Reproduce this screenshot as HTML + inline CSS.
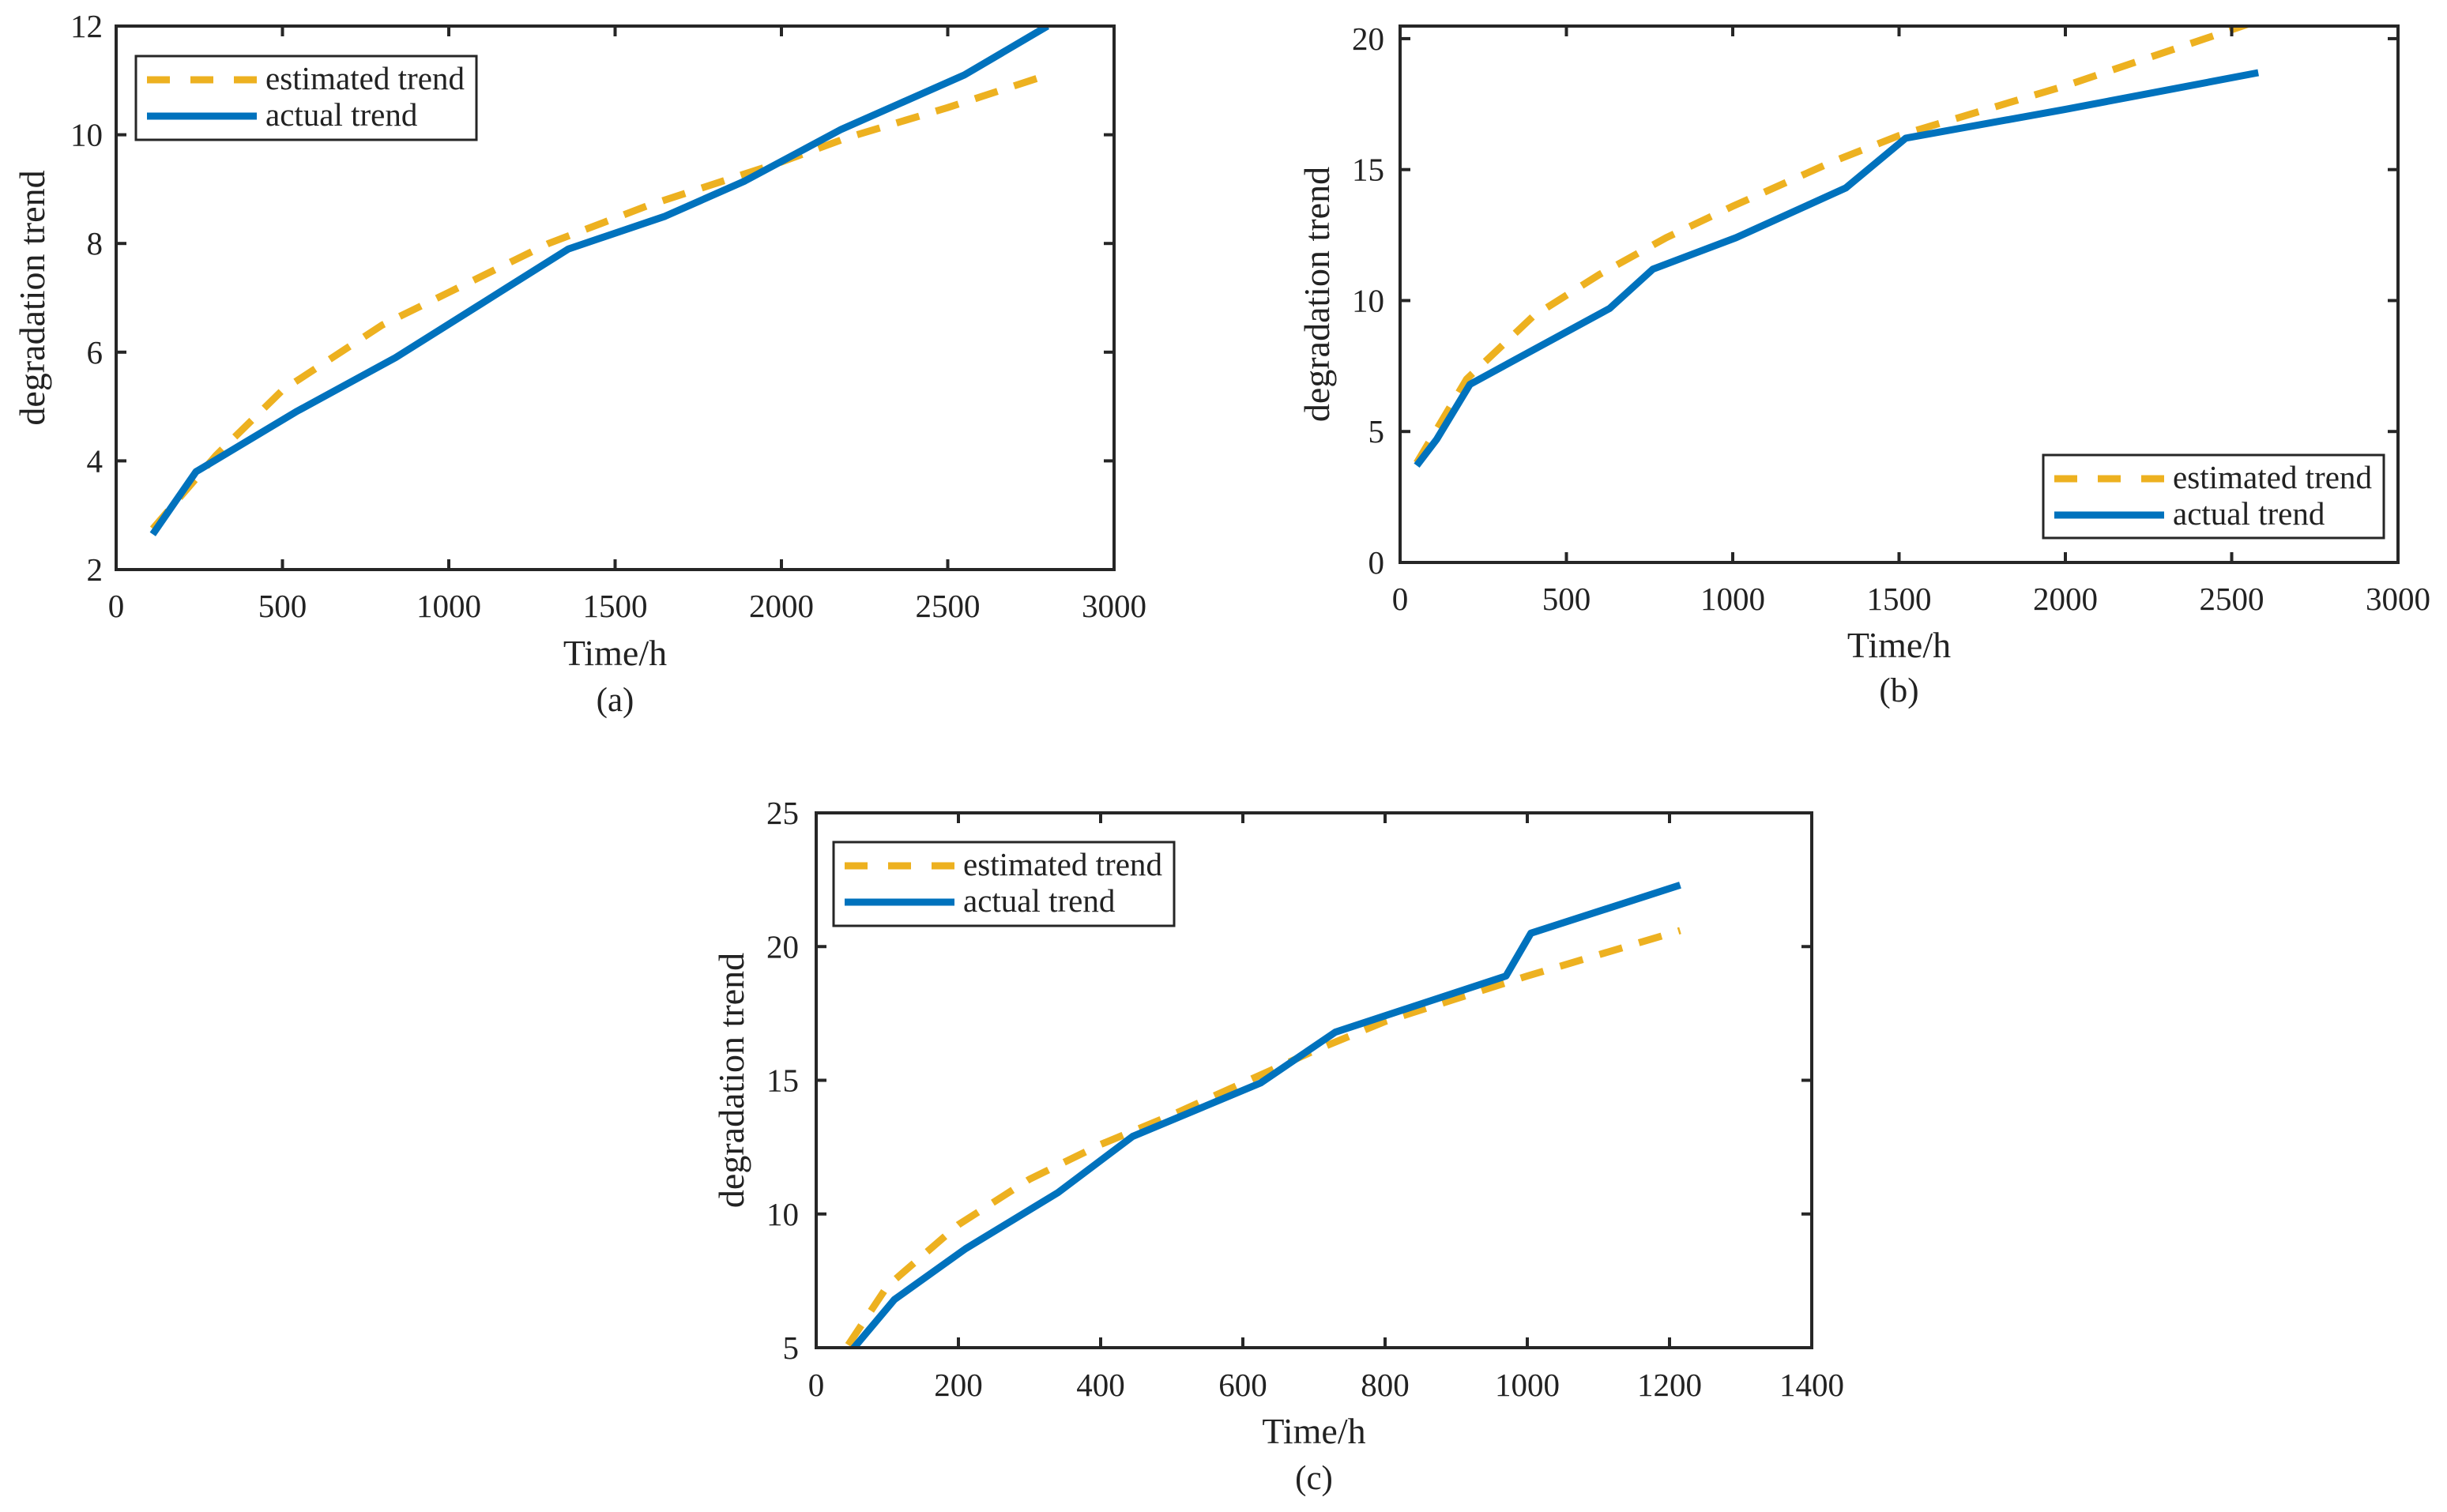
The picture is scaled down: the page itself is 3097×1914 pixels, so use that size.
<!DOCTYPE html>
<html><head><meta charset="utf-8"><style>
html,body{margin:0;padding:0;background:#fff}
svg{display:block}
text{font-family:"Liberation Serif",serif;fill:#222}
</style></head><body>
<svg id="fig" width="3097" height="1914" viewBox="0 0 3097 1914" xmlns="http://www.w3.org/2000/svg"></svg>
<script>
// Panel (a)
const aActX=[110,240,540,840,1100,1360,1650,1890,2180,2550,2800];
const aActY=[2.65,3.8,4.9,5.9,6.9,7.9,8.5,9.15,10.1,11.1,12];
const aEstX=[110,300,500,800,1000,1300,1600,2000,2200,2500,2800];
const aEstY=[2.75,4.1,5.3,6.5,7.1,8.0,8.7,9.5,9.95,10.5,11.1];
const aXTicks=[0,500,1000,1500,2000,2500,3000];
const aYTicks=[2,4,6,8,10,12];
// Panel (b)
const bActX=[50,110,210,630,760,1010,1340,1520,2000,2580];
const bActY=[3.7,4.7,6.8,9.7,11.2,12.4,14.3,16.2,17.3,18.7];
const bEstX=[50,200,400,600,800,1000,1300,1500,2000,2560];
const bEstY=[3.8,7.0,9.4,11.0,12.4,13.6,15.3,16.3,18.2,20.6];
const bXTicks=[0,500,1000,1500,2000,2500,3000];
const bYTicks=[0,5,10,15,20];
// Panel (c)
const cActX=[50,110,210,340,445,625,730,970,1005,1215];
const cActY=[4.9,6.8,8.7,10.8,12.9,14.9,16.8,18.9,20.5,22.3];
const cEstX=[45,100,200,300,400,500,600,700,800,1000,1215];
const cEstY=[5.1,7.3,9.6,11.3,12.6,13.7,14.9,16.1,17.2,18.9,20.6];
const cXTicks=[0,200,400,600,800,1000,1200,1400];
const cYTicks=[5,10,15,20,25];

const NS="http://www.w3.org/2000/svg";
const svg=document.getElementById('fig');
function mk(tag,attrs,parent){const e=document.createElementNS(NS,tag);for(const k in attrs)e.setAttribute(k,attrs[k]);(parent||svg).appendChild(e);return e;}

function panel(id,cfg){
  const g=mk('g',{});
  
  
  const {L,R,T,B,x0,x1,y0,y1}=cfg;
  const sx=v=>L+(v-x0)/(x1-x0)*(R-L);
  const sy=v=>B-(v-y0)/(y1-y0)*(B-T);
  const clip=mk('clipPath',{id:'clip'+id},g);
  mk('rect',{x:L,y:T,width:R-L,height:B-T},clip);
  const est=mk('polyline',{points:cfg.estX.map((x,i)=>sx(x)+','+sy(cfg.estY[i])).join(' '),fill:'none',stroke:'#EDB120','stroke-width':9,'stroke-dasharray':'30,22','clip-path':'url(#clip'+id+')'},g);
  
  
  const act=mk('polyline',{points:cfg.actX.map((x,i)=>sx(x)+','+sy(cfg.actY[i])).join(' '),fill:'none',stroke:'#0072BD','stroke-width':9,'stroke-linejoin':'round','clip-path':'url(#clip'+id+')'},g);
  
  
  const box=mk('rect',{x:L,y:T,width:R-L,height:B-T,fill:'none',stroke:'#262626','stroke-width':4},g);
  
  
  cfg.xt.forEach(v=>{
    const x=sx(v);
    mk('line',{x1:x,y1:B,x2:x,y2:B-13,stroke:'#262626','stroke-width':4},g);
    mk('line',{x1:x,y1:T,x2:x,y2:T+13,stroke:'#262626','stroke-width':4},g);
    const t=mk('text',{x:x,y:cfg.xtY,'font-size':41,'text-anchor':'middle'},g);t.textContent=v;
    
    
  });
  cfg.yt.forEach(v=>{
    const y=sy(v);
    mk('line',{x1:L,y1:y,x2:L+13,y2:y,stroke:'#262626','stroke-width':4},g);
    mk('line',{x1:R,y1:y,x2:R-13,y2:y,stroke:'#262626','stroke-width':4},g);
    const t=mk('text',{x:cfg.ytX,y:y+14,'font-size':41,'text-anchor':'end'},g);t.textContent=v;
    
    
  });
  const xl=mk('text',{x:(L+R)/2,y:cfg.xlY,'font-size':46,'text-anchor':'middle'},g);xl.textContent='Time/h';
  
  
  const cap=mk('text',{x:(L+R)/2,y:cfg.capY,'font-size':43,'text-anchor':'middle'},g);cap.textContent='('+id+')';
  
  
  const yl=mk('text',{x:0,y:0,'font-size':46,'text-anchor':'middle',transform:'translate('+cfg.ylX+','+(T+B)/2+') rotate(-90)'},g);yl.textContent='degradation trend';
  
  
  const lg=mk('g',{},g);
  
  
  const [lx,ly,lw,lh]=cfg.leg;
  mk('rect',{x:lx,y:ly,width:lw,height:lh,fill:'#fff',stroke:'#262626','stroke-width':3},lg);
  const e1y=ly+30,e2y=ly+76;
  mk('line',{x1:lx+14,y1:e1y,x2:lx+153,y2:e1y,stroke:'#EDB120','stroke-width':9,'stroke-dasharray':'29,26'},lg);
  mk('line',{x1:lx+14,y1:e2y,x2:lx+153,y2:e2y,stroke:'#0072BD','stroke-width':9},lg);
  const t1=mk('text',{x:lx+164,y:e1y+12,'font-size':41,textLength:252,lengthAdjust:'spacingAndGlyphs'},lg);t1.textContent='estimated trend';
  
  
  const t2=mk('text',{x:lx+164,y:e2y+12,'font-size':41},lg);t2.textContent='actual trend';
  
  
}

panel('a',{L:147,R:1410,T:33,B:721,x0:0,x1:3000,y0:2,y1:12,actX:aActX,actY:aActY,estX:aEstX,estY:aEstY,xt:aXTicks,yt:aYTicks,xtY:781,ytX:130,xlY:842,capY:900,ylX:56,leg:[172,71,431,106]});
panel('b',{L:1772,R:3035,T:33,B:712,x0:0,x1:3000,y0:0,y1:20.48,actX:bActX,actY:bActY,estX:bEstX,estY:bEstY,xt:bXTicks,yt:bYTicks,xtY:772,ytX:1752,xlY:832,capY:888,ylX:1682,leg:[2586,576,431,105]});
panel('c',{L:1033,R:2293,T:1029,B:1706,x0:0,x1:1400,y0:5,y1:25,actX:cActX,actY:cActY,estX:cEstX,estY:cEstY,xt:cXTicks,yt:cYTicks,xtY:1767,ytX:1011,xlY:1827,capY:1885,ylX:941,leg:[1055,1066,431,106]});
</script>
</body></html>
